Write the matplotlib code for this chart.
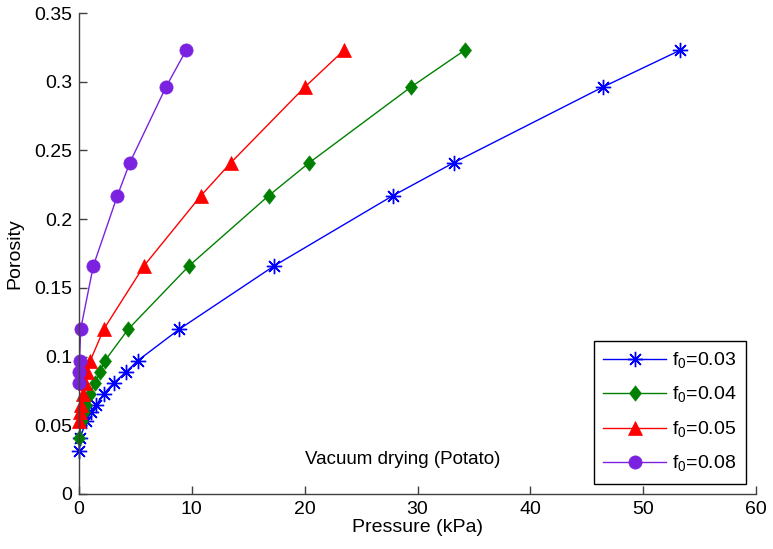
# Porosity vs. pressure, vacuum drying of potato -----------------------------
import numpy as np
import matplotlib.pyplot as plt
from matplotlib.path import Path

plt.rcParams['font.family'] = ['Liberation Sans', 'DejaVu Sans']
plt.rcParams['mathtext.fontset'] = 'custom'
plt.rcParams['mathtext.rm'] = 'Liberation Sans'

# Data ----------------------------------------------------------------------
porosity = [0.323, 0.296, 0.241, 0.217, 0.166, 0.120, 0.097, 0.089, 0.081,
            0.073, 0.065, 0.060, 0.053, 0.041, 0.031]

p_f003 = [53.3, 46.4, 33.2, 27.8, 17.3, 8.9, 5.2, 4.2, 3.1, 2.2, 1.55, 1.1,
          0.65, 0.1, 0.0]
p_f004 = [34.2, 29.4, 20.4, 16.8, 9.75, 4.37, 2.3, 1.85, 1.4, 1.0, 0.65,
          0.45, 0.25, 0.0]
p_f005 = [23.5, 20.0, 13.45, 10.8, 5.76, 2.2, 1.0, 0.75, 0.55, 0.35, 0.2,
          0.1, 0.0]
p_f008 = [9.5, 7.7, 4.5, 3.4, 1.27, 0.15, 0.05, 0.02, 0.0]

labels = [r'f$_\mathregular{0}$=0.03', r'f$_\mathregular{0}$=0.04',
          r'f$_\mathregular{0}$=0.05', r'f$_\mathregular{0}$=0.08']

# MATLAB-ish diamond (wider than mpl 'd', narrower than 'D')
diamond = Path([(0, 1), (0.78, 0), (0, -1), (-0.78, 0), (0, 1)],
               [Path.MOVETO, Path.LINETO, Path.LINETO, Path.LINETO,
                Path.CLOSEPOLY])

colors = ['#0000ff', '#008000', '#ff0000', '#7b22e0']
markers = [(8, 2, 0), diamond, '^', 'o']
msizes = [11, 11, 10.5, 9.5]

#------------------------------------------------------------------------------
fig = plt.figure(figsize=(7.73, 5.49), dpi=100)
ax = fig.add_axes([79 / 773, 1 - 494 / 549, 677 / 773, 481 / 549])

series = [p_f003, p_f004, p_f005, p_f008]
for xs, lab, c, m, ms in zip(series, labels, colors, markers, msizes):
    ax.plot(xs, porosity[:len(xs)], lw=1.0, color=c, label=lab,
            marker=m, markersize=ms, markerfacecolor=c, markeredgecolor=c,
            mew=1.0 if m == (8, 2, 0) else 0.5, clip_on=False)

ax.set_xlim(0, 60)
ax.set_ylim(0, 0.35)
ax.set_xticks(np.arange(0, 61, 10))
ax.set_yticks(np.arange(0, 0.351, 0.05))
ax.yaxis.set_major_formatter(lambda v, pos: f'{v:g}')

for side in ('top', 'right'):
    ax.spines[side].set_visible(False)
for side in ('left', 'bottom'):
    ax.spines[side].set_color('#404040')
    ax.spines[side].set_linewidth(1.0)
ax.tick_params(direction='in', length=6, width=1.0, color='#404040',
               labelsize=14, pad=5)

ax.set_xlabel('Pressure (kPa)', fontsize=14, labelpad=1)
ax.set_ylabel('Porosity', fontsize=14, labelpad=8)

ax.text(20.0, 0.025, 'Vacuum drying (Potato)', fontsize=13.5,
        ha='left', va='center')

leg = ax.legend(loc='lower right', bbox_to_anchor=(0.985, 0.021),
                borderaxespad=0, fontsize=14, fancybox=False,
                edgecolor='black', framealpha=1, handlelength=3.2,
                labelspacing=0.73, borderpad=0.5, handletextpad=0.3)
leg.get_frame().set_linewidth(1.0)

fig.savefig('out.png', dpi=100)
